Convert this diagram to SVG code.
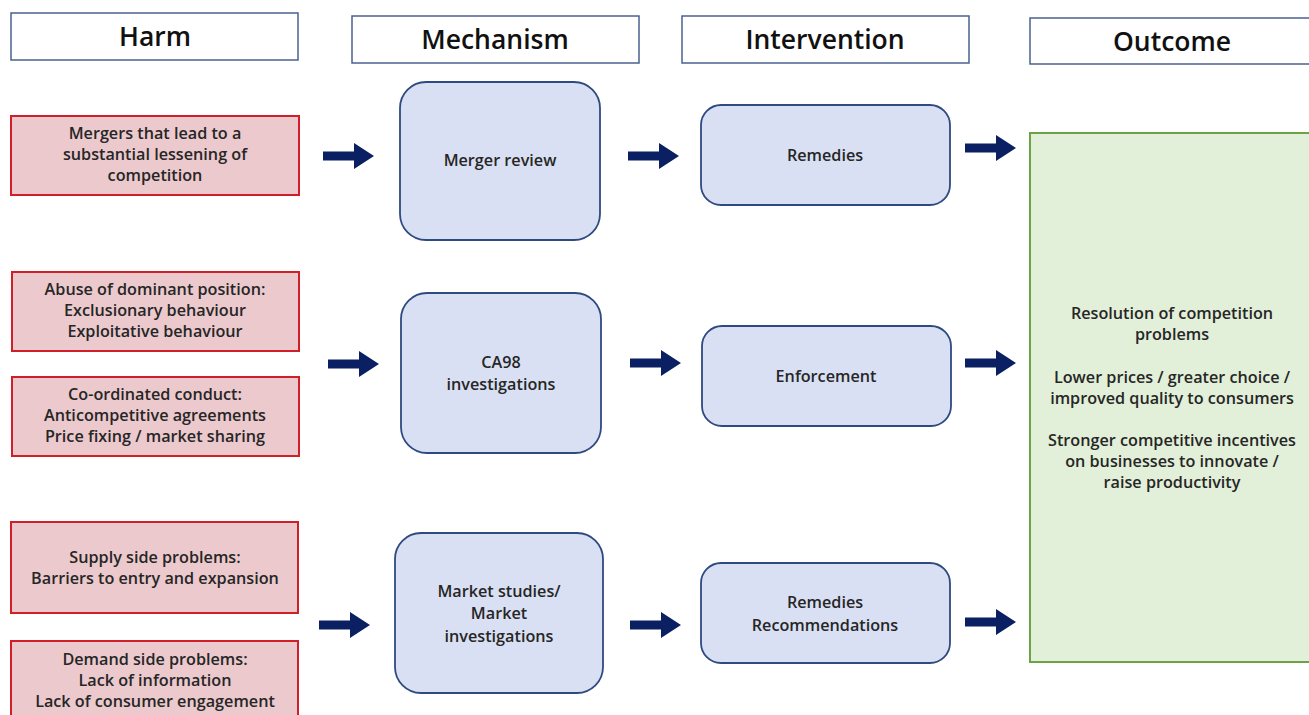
<svg xmlns="http://www.w3.org/2000/svg" width="1309" height="715" viewBox="0 0 1309 715">
<defs>
<style>
.hdr{fill:#fff;stroke:#4a6190;stroke-width:1.5}
.hdrt{font-family:"Open Sans","Noto Sans",sans-serif;font-size:26.5px;font-weight:600;fill:#111;text-anchor:middle}
.harm{fill:#ecc9cd;stroke:#d01f28;stroke-width:2}
.mech{fill:#dae0f3;stroke:#2f4a80;stroke-width:1.8}
.out{fill:#e2efd9;stroke:#6aa447;stroke-width:2}
.t{font-family:"Open Sans","Noto Sans",sans-serif;font-size:16.2px;font-weight:600;fill:#262626;text-anchor:middle}
.arr{fill:#0a2062}
</style>
<path id="arrow" d="M0,-4.5 L31,-4.5 L31,-13 L51,0 L31,13 L31,4.5 L0,4.5 Z"/>
</defs>
<rect width="1309" height="715" fill="#fff"/>

<g id="header-harm"><rect class="hdr" x="11" y="13" width="287" height="47"/><text class="hdrt" x="155" y="46">Harm</text></g>
<g id="header-mechanism"><rect class="hdr" x="352" y="16" width="287" height="47"/><text class="hdrt" x="495" y="49">Mechanism</text></g>
<g id="header-intervention"><rect class="hdr" x="682" y="16" width="287" height="47"/><text class="hdrt" x="825" y="49">Intervention</text></g>
<g id="header-outcome"><rect class="hdr" x="1030" y="18" width="290" height="46"/><text class="hdrt" x="1172" y="51">Outcome</text></g>

<g id="harm-mergers"><rect class="harm" x="11" y="116" width="288" height="79"/>
<text class="t" x="155" y="139">Mergers that lead to a</text><text class="t" x="155" y="160">substantial lessening of</text><text class="t" x="155" y="181">competition</text></g>
<g id="harm-abuse"><rect class="harm" x="12" y="272" width="287" height="79"/>
<text class="t" x="155" y="295">Abuse of dominant position:</text><text class="t" x="155" y="316">Exclusionary behaviour</text><text class="t" x="155" y="337">Exploitative behaviour</text></g>
<g id="harm-coordinated"><rect class="harm" x="12" y="377" width="287" height="79"/>
<text class="t" x="155" y="400">Co-ordinated conduct:</text><text class="t" x="155" y="421">Anticompetitive agreements</text><text class="t" x="155" y="442">Price fixing / market sharing</text></g>
<g id="harm-supply"><rect class="harm" x="11" y="522" width="287" height="91"/>
<text class="t" x="155" y="563">Supply side problems:</text><text class="t" x="155" y="584">Barriers to entry and expansion</text></g>
<g id="harm-demand"><rect class="harm" x="11" y="641" width="287" height="90"/>
<text class="t" x="155" y="665">Demand side problems:</text><text class="t" x="155" y="686">Lack of information</text><text class="t" x="155" y="707">Lack of consumer engagement</text></g>

<g id="mech-merger"><rect class="mech" x="400" y="82" width="200" height="158" rx="26"/>
<text class="t" x="500" y="166">Merger review</text></g>
<g id="mech-ca98"><rect class="mech" x="401" y="293" width="200" height="160" rx="26"/>
<text class="t" x="501" y="368">CA98</text><text class="t" x="501" y="390">investigations</text></g>
<g id="mech-market"><rect class="mech" x="395" y="533" width="208" height="160" rx="26"/>
<text class="t" x="499" y="597">Market studies/</text><text class="t" x="499" y="619">Market</text><text class="t" x="499" y="642">investigations</text></g>

<g id="int-remedies"><rect class="mech" x="701" y="105" width="249" height="100" rx="20"/>
<text class="t" x="825" y="161">Remedies</text></g>
<g id="int-enforcement"><rect class="mech" x="702" y="326" width="249" height="100" rx="20"/>
<text class="t" x="826" y="382">Enforcement</text></g>
<g id="int-remrec"><rect class="mech" x="701" y="563" width="249" height="100" rx="20"/>
<text class="t" x="825" y="608">Remedies</text><text class="t" x="825" y="631">Recommendations</text></g>

<g id="outcome"><rect class="out" x="1030" y="133" width="290" height="529"/>
<text class="t" x="1172" y="319">Resolution of competition</text><text class="t" x="1172" y="340">problems</text>
<text class="t" x="1172" y="383">Lower prices / greater choice /</text><text class="t" x="1172" y="404">improved quality to consumers</text>
<text class="t" x="1172" y="446">Stronger competitive incentives</text><text class="t" x="1172" y="467">on businesses to innovate /</text><text class="t" x="1172" y="488">raise productivity</text></g>

<g id="connectors" class="arr">
<use href="#arrow" x="323" y="156"/>
<use href="#arrow" x="628" y="156"/>
<use href="#arrow" x="965" y="148"/>
<use href="#arrow" x="328" y="364"/>
<use href="#arrow" x="630" y="363"/>
<use href="#arrow" x="965" y="363"/>
<use href="#arrow" x="319" y="625"/>
<use href="#arrow" x="630" y="625"/>
<use href="#arrow" x="965" y="622"/>
</g>
</svg>
